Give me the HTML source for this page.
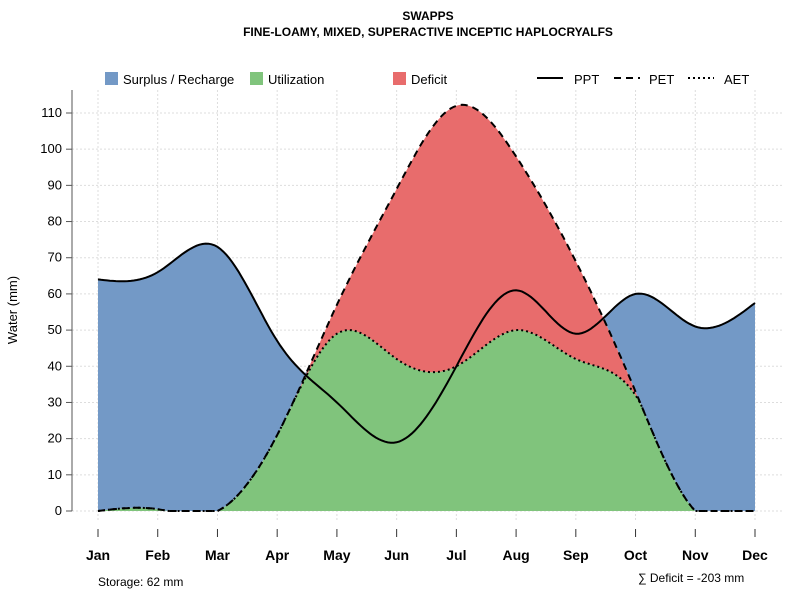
<!DOCTYPE html>
<html><head><meta charset="utf-8"><style>
body{margin:0;background:#fff;font-family:"Liberation Sans",sans-serif}
svg text{font-family:"Liberation Sans",sans-serif}
</style></head><body>
<svg id="c" width="800" height="600" xmlns="http://www.w3.org/2000/svg">
<text x="428" y="20" text-anchor="middle" font-size="12" font-weight="bold">SWAPPS</text>
<text x="428" y="36" text-anchor="middle" font-size="12" font-weight="bold">FINE-LOAMY, MIXED, SUPERACTIVE INCEPTIC HAPLOCRYALFS</text>
<g id="grid"></g><g id="fills"></g><g id="lines"></g><g id="axes"></g>
<g font-size="13">
<rect x="105" y="72" width="13" height="13" fill="#7399c6"/>
<text x="123" y="84">Surplus / Recharge</text>
<rect x="250" y="72" width="13" height="13" fill="#80c47c"/>
<text x="268" y="84">Utilization</text>
<rect x="393" y="72" width="13" height="13" fill="#e86c6c"/>
<text x="411" y="84">Deficit</text>
<line x1="537" y1="78" x2="563" y2="78" stroke="#000" stroke-width="2"/>
<text x="574" y="84">PPT</text>
<line x1="614" y1="78" x2="640" y2="78" stroke="#000" stroke-width="2" stroke-dasharray="7,5"/>
<text x="649" y="84">PET</text>
<line x1="688" y1="78" x2="714" y2="78" stroke="#000" stroke-width="2" stroke-dasharray="2,3"/>
<text x="724" y="84">AET</text>
</g>
<text x="17" y="310" transform="rotate(-90 17 310)" text-anchor="middle" font-size="13">Water (mm)</text>
<text x="98" y="586" font-size="12">Storage: 62 mm</text>
<text x="638" y="582" font-size="12">∑ Deficit = -203 mm</text>
</svg>
<script>
const months=["Jan","Feb","Mar","Apr","May","Jun","Jul","Aug","Sep","Oct","Nov","Dec"];
const ppt=[64,66,73,47,30,19,40,61,49,60,51,57.5];
const pet=[0,0.5,0,21,57,89,112,98,69,33,0,0];
const aet=[0,0.5,0,21,49,42,40,50,42,32,0,0];
const yTicks=[0,10,20,30,40,50,60,70,80,90,100,110];
const NS="http://www.w3.org/2000/svg";
const x=i=>98+i*(755-98)/11, y=v=>511-v*(511-113)/110;
function el(t,a,p){const e=document.createElementNS(NS,t);for(const k in a)e.setAttribute(k,a[k]);document.getElementById(p).appendChild(e);return e;}
function spline(ys){const n=ys.length,m=new Array(n).fill(0),a=[],b=[],c=[],d=[];
 for(let i=1;i<n-1;i++){a[i]=1;b[i]=4;c[i]=1;d[i]=6*(ys[i+1]-2*ys[i]+ys[i-1]);}
 const cp=[],dp=[];cp[1]=c[1]/b[1];dp[1]=d[1]/b[1];
 for(let i=2;i<n-1;i++){const q=b[i]-a[i]*cp[i-1];cp[i]=c[i]/q;dp[i]=(d[i]-a[i]*dp[i-1])/q;}
 for(let i=n-2;i>=1;i--)m[i]=dp[i]-(i<n-2?cp[i]*m[i+1]:0);
 const out=[];const S=20;
 for(let i=0;i<n-1;i++)for(let s=0;s<S;s++){const t=s/S;
  out.push({t:i+t,v:(1-t)*ys[i]+t*ys[i+1]+((1-t)**3-(1-t))*m[i]/6+(t**3-t)*m[i+1]/6});}
 out.push({t:n-1,v:ys[n-1]});return out;}
const P=spline(ppt),E=spline(pet),A=spline(aet);
for(let k=0;k<E.length;k++){if(E[k].v<0)E[k].v=0;if(A[k].v<0)A[k].v=0;if(A[k].v>E[k].v)A[k].v=E[k].v;}
yTicks.forEach(v=>{const g=el("line",{x1:72,x2:783,y1:y(v),y2:y(v),stroke:"#ddd","stroke-dasharray":"2,2"},"grid");
 
 const t=el("line",{x1:66,x2:72,y1:y(v),y2:y(v),stroke:"#555"},"axes");
 
 const l=el("text",{x:62,y:y(v)+4,"text-anchor":"end","font-size":13},"axes");l.textContent=v;
 });
months.forEach((m,i)=>{const g=el("line",{x1:x(i),x2:x(i),y1:90,y2:520,stroke:"#ddd","stroke-dasharray":"2,2"},"grid");
 
 const t=el("line",{x1:x(i),x2:x(i),y1:529,y2:537,stroke:"#333"},"axes");
 
 const l=el("text",{x:x(i),y:560,"text-anchor":"middle","font-size":14,"font-weight":"bold"},"axes");l.textContent=m;
 });
const ya=el("line",{x1:72,x2:72,y1:90,y2:511,stroke:"#555"},"axes");

const px=o=>x(o.t).toFixed(1);
function band(lo,hi,col,name){let d="M"+lo.map(o=>px(o)+","+y(o.v).toFixed(1)).join(" L");
 for(let k=hi.length-1;k>=0;k--)d+=" L"+px(hi[k])+","+y(hi[k].v).toFixed(1);
 const p=el("path",{d:d+"Z",fill:col},"fills");}
band(A.map(o=>({t:o.t,v:0})),A,"#80c47c","utilization-area");
band(A,E,"#e86c6c","deficit-area");
band(E,P.map((o,k)=>({t:o.t,v:Math.max(o.v,E[k].v)})),"#7399c6","surplus-area");
function line(S,dash,name){const p=el("path",{d:"M"+S.map(o=>px(o)+","+y(o.v).toFixed(1)).join(" L"),fill:"none",stroke:"#000","stroke-width":2,"stroke-dasharray":dash},"lines");
 }
line(A,"2,3","aet-line");line(E,"7,5","pet-line");line(P,"none","ppt-line");
</script>
</body></html>
